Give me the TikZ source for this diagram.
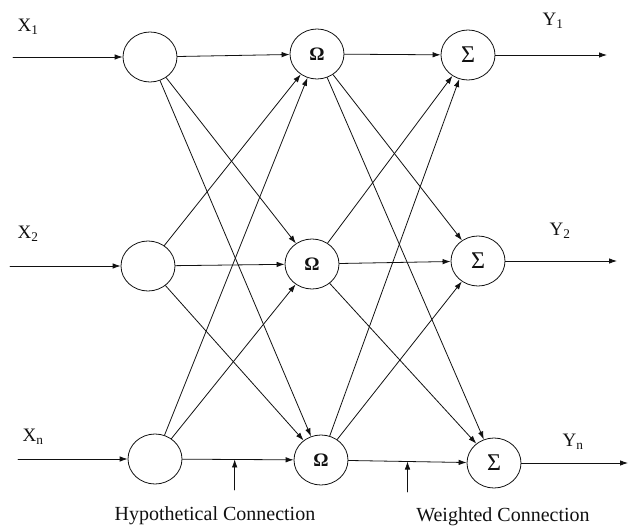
\documentclass[tikz,border=0pt]{standalone}
\usepackage{fontspec}
\setmainfont{Liberation Serif}
\usetikzlibrary{arrows.meta,shapes.geometric,calc}
\definecolor{ink}{HTML}{111111}
\tikzset{
  arr/.style={-{Latex[length=8pt,width=5.5pt]}, line width=0.8pt, draw=ink},
  figbase/.style={
    x=1pt, y=-1pt,
    font=\fontsize{19}{22}\selectfont,
    color=ink,
    line cap=round,
    line join=round,
  },
  unit/.style={
    ellipse, draw=ink, line width=0.8pt,
    minimum width=54pt, minimum height=50pt,
    inner sep=0pt, fill=white,
  },
  sumunit/.style={unit, font=\fontsize{24}{24}\selectfont},
  lab/.style={inner sep=1pt, text=ink},
  note/.style={font=\fontsize{20}{24}\selectfont, inner sep=1pt, text=ink},
}

\begin{document}
\begin{tikzpicture}[figbase]
  \useasboundingbox (0,0) rectangle (629,532);

  % input units
  \node[unit] (i1) at (150,57) {};
  \node[unit] (i2) at (148,266) {};
  \node[unit] (i3) at (155,459) {};

  % hidden units
  \node[unit] (h1) at (317,54) {\textbf{Ω}};
  \node[unit] (h2) at (312,264) {\textbf{Ω}};
  \node[unit] (h3) at (321,460) {\textbf{Ω}};

  % summation units
  \node[sumunit] (s1) at (468,55) {Σ};
  \node[sumunit] (s2) at (478,261) {Σ};
  \node[sumunit] (s3) at (494,463) {Σ};

  % free ends of the inputs and outputs
  \coordinate (x1) at (13,57);
  \coordinate (x2) at (10,266);
  \coordinate (x3) at (18,459);
  \coordinate (y1) at (607,55);
  \coordinate (y2) at (617,261);
  \coordinate (y3) at (628,463);

  \node[lab] (lx1) at (28,27) {X\textsubscript{1}};
  \node[lab] (lx2) at (28,234) {X\textsubscript{2}};
  \node[lab] (lx3) at (33,437) {X\textsubscript{n}};
  \node[lab] (ly1) at (553,21) {Y\textsubscript{1}};
  \node[lab] (ly2) at (560,231) {Y\textsubscript{2}};
  \node[lab] (ly3) at (573,442) {Y\textsubscript{n}};

  \draw[arr] (x1) -- (i1);
  \draw[arr] (x2) -- (i2);
  \draw[arr] (x3) -- (i3);

  \draw[arr] (i1) -- (h1);
  \draw[arr] (i1) -- (h2);
  \draw[arr] (i1) -- (h3);
  \draw[arr] (i2) -- (h1);
  \draw[arr] (i2) -- (h2);
  \draw[arr] (i2) -- (h3);
  \draw[arr] (i3) -- (h1);
  \draw[arr] (i3) -- (h2);
  \draw[arr] (i3) -- (h3) coordinate[pos=0.47] (hc);

  \draw[arr] (h1) -- (s1);
  \draw[arr] (h1) -- (s2);
  \draw[arr] (h1) -- (s3);
  \draw[arr] (h2) -- (s1);
  \draw[arr] (h2) -- (s2);
  \draw[arr] (h2) -- (s3);
  \draw[arr] (h3) -- (s1);
  \draw[arr] (h3) -- (s2);
  \draw[arr] (h3) -- (s3) coordinate[pos=0.5] (wc);

  \draw[arr] (s1) -- (y1);
  \draw[arr] (s2) -- (y2);
  \draw[arr] (s3) -- (y3);

  \node[note] (hyp) at (215,516) {Hypothetical Connection};
  \node[note] (wgt) at (503,517) {Weighted Connection};
  \draw[arr, line width=0.6pt] (hc |- 0,490) -- (hc);
  \draw[arr, line width=0.6pt] (wc |- 0,492) -- (wc);
\end{tikzpicture}
\end{document}
